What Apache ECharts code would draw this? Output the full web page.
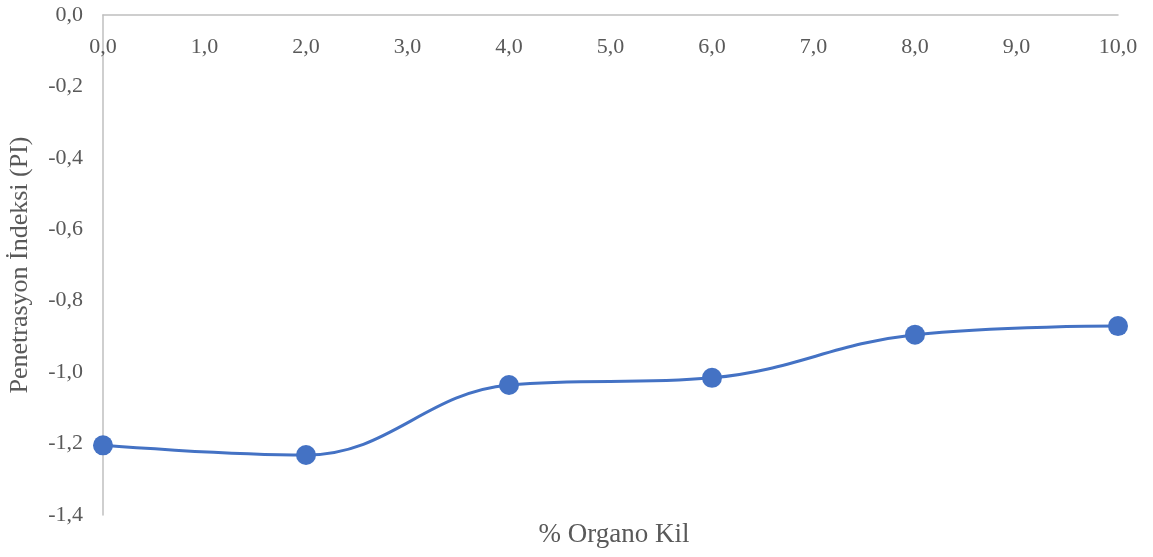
<!DOCTYPE html>
<html>
<head>
<meta charset="utf-8">
<script src="https://cdn.jsdelivr.net/npm/echarts@6/dist/echarts.min.js"></script>
<style>html,body{margin:0;padding:0;background:#fff;}#c{width:1153px;height:557px;}</style>
</head>
<body>
<div id="c"></div>
<script>
const xValues = [0, 2, 4, 6, 8, 10];
const piValues = [-1.205, -1.232, -1.036, -1.016, -0.895, -0.871];
const xTitle = '% Organo Kil';
const yTitle = 'Penetrasyon İndeksi (PI)';

const font = 'Liberation Serif, Times New Roman, serif';
const txt = '#595959';
const fmt = v => v.toFixed(1).replace('.', ',');

const chart = echarts.init(document.getElementById('c'));
chart.setOption({
  animation: false,
  backgroundColor: '#ffffff',
  grid: { left: 103, right: 35, top: 15, bottom: 42, containLabel: false, outerBoundsMode: 'none' },
  xAxis: {
    type: 'value', position: 'top', min: 0, max: 10, interval: 1,
    axisLine: { show: true, onZero: false, lineStyle: { color: '#bfbfbf', width: 1.5 } },
    axisTick: { show: false },
    splitLine: { show: false },
    axisLabel: { inside: true, margin: 21, color: txt, fontFamily: font, fontSize: 22, formatter: fmt }
  },
  yAxis: {
    type: 'value', min: -1.4, max: 0, interval: 0.2,
    name: yTitle, nameLocation: 'middle', nameGap: 70, nameRotate: 90,
    nameTextStyle: { color: txt, fontFamily: font, fontSize: 26 },
    axisLine: { show: true, lineStyle: { color: '#bfbfbf', width: 1.5 } },
    axisTick: { show: false },
    splitLine: { show: false },
    axisLabel: { margin: 20, color: txt, fontFamily: font, fontSize: 22, formatter: fmt }
  },
  graphic: [{
    type: 'text', x: 614, y: 535,
    style: { text: xTitle, fill: txt, font: '27px ' + font, textAlign: 'center', textVerticalAlign: 'middle' }
  }],
  series: [{
    type: 'line', smooth: 0.4,
    data: xValues.map((x, i) => [x, piValues[i]]),
    symbol: 'circle', symbolSize: 20,
    lineStyle: { color: '#4472c4', width: 3 },
    itemStyle: { color: '#4472c4' }
  }]
});
</script>
</body>
</html>
